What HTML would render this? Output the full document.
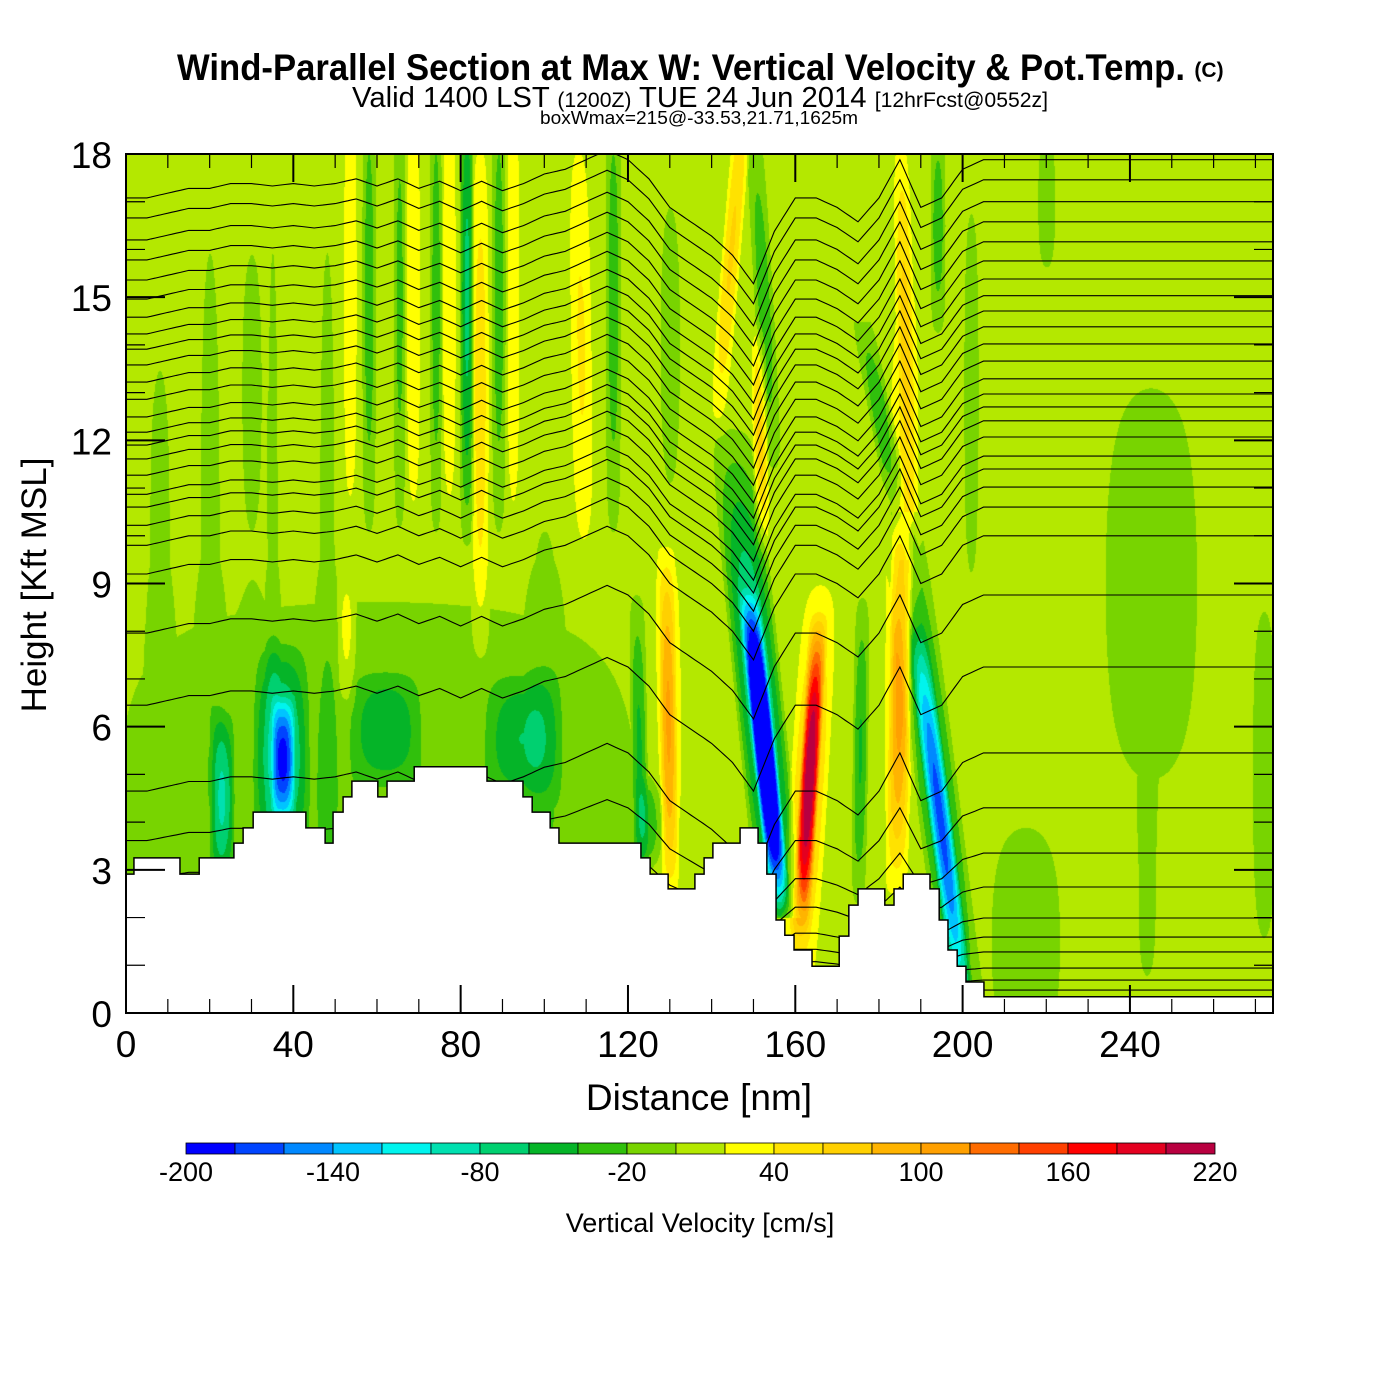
<!DOCTYPE html>
<html><head><meta charset="utf-8">
<style>
html,body{margin:0;padding:0;background:#fff;}
#wrap{position:relative;width:1400px;height:1400px;overflow:hidden;background:#fff;}
#field{position:absolute;left:126px;top:154px;}
#ov{position:absolute;left:0;top:0;}
text{font-family:"Liberation Sans",Arial,sans-serif;fill:#000;}
</style></head>
<body>
<div id="wrap">
<canvas id="field" width="1147" height="859"></canvas>
<svg id="ov" width="1400" height="1400" xmlns="http://www.w3.org/2000/svg">
  <g id="contours"></g>
  <path id="terrain" fill="#fff" stroke="#000" stroke-width="1.5"></path>
  <g id="axes"></g>
  <rect x="126" y="154" width="1147" height="859" fill="none" stroke="#000" stroke-width="2"/>
  <text x="681" y="80" font-size="37" font-weight="bold" text-anchor="middle" textLength="1008" lengthAdjust="spacingAndGlyphs">Wind-Parallel Section at Max W: Vertical Velocity &amp; Pot.Temp.</text>
  <text x="1209" y="77" font-size="21" font-weight="bold" text-anchor="middle">(C)</text>
  <text x="700" y="107" font-size="29" text-anchor="middle" textLength="696" lengthAdjust="spacingAndGlyphs">Valid 1400 LST <tspan font-size="21">(1200Z)</tspan> TUE 24 Jun 2014 <tspan font-size="21">[12hrFcst@0552z]</tspan></text>
  <text x="699" y="124" font-size="18" text-anchor="middle" textLength="318" lengthAdjust="spacingAndGlyphs">boxWmax=215@-33.53,21.71,1625m</text>
  <text x="699" y="1110" font-size="37" text-anchor="middle">Distance [nm]</text>
  <text transform="translate(46,585) rotate(-90)" font-size="35" text-anchor="middle">Height [Kft MSL]</text>
  <g id="cbar"></g>
  <text x="700" y="1232" font-size="27" text-anchor="middle">Vertical Velocity [cm/s]</text>
</svg>
</div>
<script>
// ---- data ----
const xMax = 274.2, yMax = 18;
const colorLevels = [-200,-180,-160,-140,-120,-100,-80,-60,-40,-20,0,20,40,60,80,100,120,140,160,180,200,220];
const colorList = ["#0000ff","#0044ff","#0088ff","#00c4ff","#00f4ee","#00e0b0","#00d070","#05b428","#30c00c","#78d400","#b4e800","#ffff00","#ffe200","#ffd000","#ffb400","#ffa000","#ff6c00","#ff4000","#ff0000","#e40020","#b80040"];
const cbarLabels = [-200,-140,-80,-20,40,100,160,220];
const xTicks = [0,40,80,120,160,200,240];
const yTicks = [0,3,6,9,12,15,18];
const background = 8;
// bands: bottom point, top point, half width (nm), peak (cm/s), center height, vertical half-extent
const bandXBottom = [156,156,161,161,152,130,130,184,184,199,199,186,140,155,187,194,123,175, 53.5,58,65.3,68.6,74,77.2,81.4,84.6,89,92.5,109.5,116.4, 20,35,48, 60,37.5,37,23,62,95,125,52.6, 202,220,245,215,272,244, 8,30,100,130];
const bandHBottom = [2.5,2.5,1.5,1.5,10,2.8,2.8,2.5,2.5,1,1,10,11,11,11,13,3,2.5, 9,9,9,9,9,9,9,7,9,9,9,9, 0,0,0, 0,3.5,3,2.5,4.5,4.2,3,6, 7,15,3,0,0,0, 0,0,0,9];
const bandXTop = [145,145,166,166,151,129,129,186,187,186,186,177,147,150,185,194,122,176, 53.5,58,65.3,68.6,74,77.2,81.4,84.6,89,92.5,108,116.4, 20,35,48, 60,37.5,37,23,62,95,125,52.6, 202,220,245,215,272,244, 8,30,100,130];
const bandHTop = [12,12,9,9,14,10,10,12,18,10,10,14,18.5,18.5,18.5,18.5,9,9, 18.5,18.5,18.5,18.5,18.5,18.5,18.5,18.5,18.5,18.5,18.5,18.5, 18,18,18, 10,7,8,7,7.5,7.5,5,9.5, 18.5,18.5,15,5,10,5, 18.5,18.5,12,18.5];
const bandWidth = [2.8,6,2.4,5,2,2.2,4.5,2.8,5,2.8,5.5,3,2.5,2.5,2.2,2,2,2, 2,1.8,1.6,2,1.6,2,1.8,2.3,1.8,1.8,3,2, 4,2,3, 75,3,7,3,9,10,4,2.5, 2.5,3,16,12,4,3, 4,4,5,4];
const bandPeak = [-215,-95,165,60,60,75,25,80,25,-115,-65,-45,55,-40,45,-40,-45,-50, 28,-40,-35,30,-40,28,-75,45,-40,30,35,-40, -12,-12,-12, -25,-105,-75,-70,-45,-50,-40,30, -15,-15,-15,-15,-15,-15, -12,-12,-15,-12];
const bandHCenter = [5.5,6.5,5,4.5,12,6,6.5,7,9,3.8,5,12,16,15,14.5,16.5,5.5,5.5, 15,15,15,15,15,15,15,13,15,15,14,15, 9,9,9, 4.5,5.3,5.5,4.5,6,5.8,4,7.8, 13,17,9,1.5,5,2.5, 10,13,6,14];
const bandHSpread = [3.5,6,3.5,5,2.5,3.8,5,4.5,9,4.5,6,3,4,4,4.5,2.5,3.5,3.5, 5.5,5.5,5.5,5.5,5.5,5.5,5.5,6,5.5,5.5,5,5.5, 12,12,12, 5,1.4,2.5,2,1.3,1.5,1,1.6, 5.5,2,6,3.5,5,2.5, 6,5,6,5];
// terrain (step function)
const terrainX = [0,1.9,12.9,17.5,25.8,28.0,30.4,43.0,47.6,49.5,51.9,54.0,60.2,62.4,68.9,86.3,94.9,97.1,101.4,103.5,123.1,125.3,129.6,136.0,138.2,140.3,146.8,151.1,153.2,155.4,157.5,159.7,164.0,170.5,172.8,175.0,181.4,183.6,185.8,192.2,194.4,196.5,198.7,200.8,205.1];
const terrainH = [2.91,3.25,2.91,3.25,3.56,3.88,4.21,3.88,3.56,4.21,4.53,4.86,4.53,4.86,5.16,4.86,4.53,4.21,3.88,3.56,3.25,2.91,2.60,2.91,3.25,3.56,3.88,3.56,2.91,1.95,1.63,1.32,0.98,1.61,2.26,2.60,2.26,2.60,2.91,2.60,1.95,1.32,0.98,0.65,0.34];
// potential temperature contours: undisturbed height (kft) & displacement along distance
const contourBase = [17.88,17.46,17.0,16.58,16.16,15.76,15.38,15.03,14.71,14.38,14.02,13.66,13.29,12.97,12.70,12.41,12.07,11.67,11.40,11.02,10.60,10.0,8.76,7.25,5.45,4.30,3.35,2.64,1.99,1.59,1.28,0.94,0.69,0.48];
const dispDist = [0,5,10,15,20,25,30,35,40,45,50,55,60,65,70,75,80,85,90,95,100,105,110,115,120,125,130,135,140,145,150,155,160,165,170,175,180,185,190,195,200,205,274.2];
const dispKft = [-0.8,-0.8,-0.7,-0.6,-0.6,-0.5,-0.5,-0.55,-0.5,-0.55,-0.5,-0.4,-0.55,-0.4,-0.6,-0.45,-0.65,-0.45,-0.65,-0.5,-0.3,-0.2,0.0,0.2,0.0,-0.4,-1.0,-1.3,-1.6,-2.0,-2.6,-1.5,-0.8,-0.8,-1.0,-1.3,-0.8,0.0,-1.0,-0.8,-0.2,0,0];

// ---- axis functions ----
const PX0=126, PY0=154, PW=1147, PH=859;
const xs = d => PX0 + d/xMax*PW;
const ys = h => PY0 + PH - h/yMax*PH;

function wAt(d,h){
  let v = background;
  for(let i=0;i<bandPeak.length;i++){
    const hb=bandHBottom[i], ht=bandHTop[i];
    if(h<hb-0.5||h>ht+0.5) continue;
    const t=(h-bandHCenter[i])/bandHSpread[i];
    const fv=1-t*t; if(fv<=0) continue;
    const xc=bandXBottom[i]+(bandXTop[i]-bandXBottom[i])*(h-hb)/(ht-hb);
    const u=(d-xc)/bandWidth[i];
    const fh=1-u*u; if(fh<=0) continue;
    v+=bandPeak[i]*fh*fv;
  }
  return v;
}
// field
(function(){
  const c=document.getElementById('field').getContext('2d');
  const img=c.createImageData(PW,PH);
  const rgb=colorList.map(s=>[parseInt(s.substr(1,2),16),parseInt(s.substr(3,2),16),parseInt(s.substr(5,2),16)]);
  for(let py=0;py<PH;py++){
    const h=(PH-py)/PH*yMax;
    for(let px=0;px<PW;px++){
      const d=px/PW*xMax;
      const v=wAt(d,h);
      let k=Math.floor((v-colorLevels[0])/20); if(k<0)k=0; if(k>20)k=20;
      const o=(py*PW+px)*4, cc=rgb[k];
      img.data[o]=cc[0];img.data[o+1]=cc[1];img.data[o+2]=cc[2];img.data[o+3]=255;
    }
  }
  c.putImageData(img,0,0);
})();
// terrain
(function(){
  let p='M'+xs(0)+','+ys(0)+' L'+xs(0)+','+ys(terrainH[0]);
  for(let i=0;i<terrainX.length;i++){
    const x2 = i+1<terrainX.length? terrainX[i+1] : xMax;
    p+=' L'+xs(terrainX[i])+','+ys(terrainH[i])+' L'+xs(x2)+','+ys(terrainH[i]);
  }
  p+=' L'+xs(xMax)+','+ys(0)+' Z';
  document.getElementById('terrain').setAttribute('d',p);
})();
// contours
(function(){
  const g=document.getElementById('contours');
  function disp(d){
    for(let i=0;i<dispDist.length-1;i++){
      if(d>=dispDist[i]&&d<=dispDist[i+1]){const f=(d-dispDist[i])/(dispDist[i+1]-dispDist[i]);return dispKft[i]+f*(dispKft[i+1]-dispKft[i]);}
    }
    return 0;
  }
  contourBase.forEach((b)=>{
    const scale=Math.min(1,b/5);
    let pts=[];
    for(let d=0;d<=xMax+0.01;d+=1){
      let h=b+disp(d)*scale;
      if(h>yMax) h=yMax; if(h<0) h=0;
      pts.push(xs(Math.min(d,xMax)).toFixed(1)+','+ys(h).toFixed(1));
    }
    const pl=document.createElementNS('http://www.w3.org/2000/svg','polyline');
    pl.setAttribute('points',pts.join(' '));
    pl.setAttribute('fill','none');pl.setAttribute('stroke','#000');pl.setAttribute('stroke-width','1.1');
    
    
    g.appendChild(pl);
  });
})();
// axes
(function(){
  const g=document.getElementById('axes');
  const NS='http://www.w3.org/2000/svg';
  function line(x1,y1,x2,y2,w,name){
    const l=document.createElementNS(NS,'line');
    l.setAttribute('x1',x1);l.setAttribute('y1',y1);l.setAttribute('x2',x2);l.setAttribute('y2',y2);
    l.setAttribute('stroke','#000');l.setAttribute('stroke-width',w);
    
    
    g.appendChild(l);
  }
  function txt(x,y,s,anchor,size,name){
    const t=document.createElementNS(NS,'text');
    t.setAttribute('x',x);t.setAttribute('y',y);t.setAttribute('text-anchor',anchor);t.setAttribute('font-size',size);
    t.textContent=s;
    
    
    g.appendChild(t);
  }
  for(let d=0;d<=xMax;d+=10){
    const major=(d%40===0), L=major?28:14, x=xs(d);
    line(x,PY0+PH,x,PY0+PH-L,major?2:1.2,'x-tick');
    line(x,PY0,x,PY0+L,major?2:1.2,'x-tick-top');
  }
  for(let h=0;h<=yMax;h+=1){
    const major=(h%3===0), L=major?39:19, y=ys(h);
    line(PX0,y,PX0+L,y,major?2:1.2,'y-tick');
    line(PX0+PW,y,PX0+PW-L,y,major?2:1.2,'y-tick-right');
  }
  xTicks.forEach(d=>txt(xs(d),1057,String(d),'middle',37,'x-tick-label'));
  yTicks.forEach(h=>txt(112,ys(h)+14,String(h),'end',37,'y-tick-label'));
})();
// colorbar
(function(){
  const g=document.getElementById('cbar');
  const NS='http://www.w3.org/2000/svg';
  const x0=186,x1=1215,y0=1143,hgt=11;
  const bw=(x1-x0)/colorList.length;
  colorList.forEach((c,i)=>{
    const r=document.createElementNS(NS,'rect');
    r.setAttribute('x',x0+i*bw);r.setAttribute('y',y0);r.setAttribute('width',bw);r.setAttribute('height',hgt);
    r.setAttribute('fill',c);r.setAttribute('stroke','#000');r.setAttribute('stroke-width','0.8');
    
    
    g.appendChild(r);
  });
  cbarLabels.forEach(v=>{
    const t=document.createElementNS(NS,'text');
    t.setAttribute('x',x0+(v-colorLevels[0])/20*bw);t.setAttribute('y',1181);
    t.setAttribute('text-anchor','middle');t.setAttribute('font-size','27');
    t.textContent=String(v);
    
    
    g.appendChild(t);
  });
})();
</script>
</body></html>
